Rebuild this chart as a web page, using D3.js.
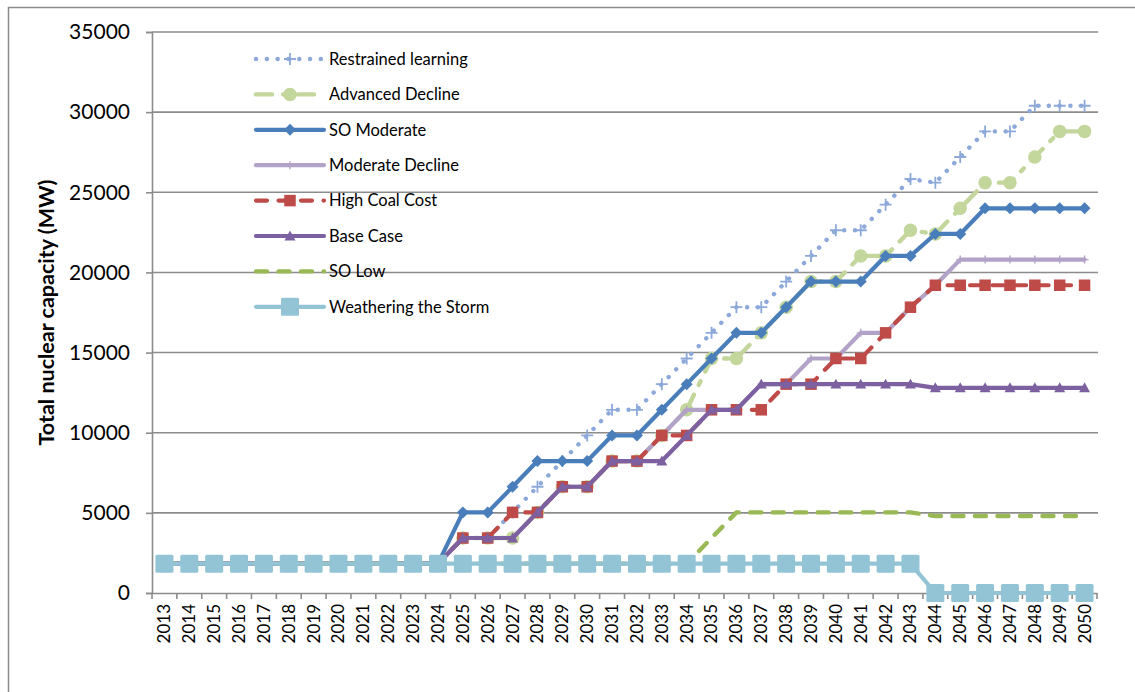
<!DOCTYPE html>
<html>
<head>
<meta charset="utf-8">
<script src="https://cdn.jsdelivr.net/npm/d3@7"></script>
<style>
  html, body { margin: 0; padding: 0; background: #fff; }
  svg { display: block; }
  text { font-family: Lato, "Open Sans", sans-serif; fill: #000; }
</style>
</head>
<body>
<svg id="chart" width="1135" height="692"></svg>
<script>
// ---------- data ----------
const years = ["2013","2014","2015","2016","2017","2018","2019","2020","2021","2022","2023","2024","2025","2026","2027","2028","2029","2030","2031","2032","2033","2034","2035","2036","2037","2038","2039","2040","2041","2042","2043","2044","2045","2046","2047","2048","2049","2050"];

const yTicks = [0, 5000, 10000, 15000, 20000, 25000, 30000, 35000];

const restrainedLearning = [1830,1830,1830,1830,1830,1830,1830,1830,1830,1830,1830,1830,
  3430,3430,5030,6630,8230,9830,11430,11430,13030,14630,
  16230,17830,17830,19430,21030,22630,22630,24230,25830,25600,
  27200,28800,28800,30400,30400,30400];

const advancedDecline = [1830,1830,1830,1830,1830,1830,1830,1830,1830,1830,1830,1830,
  3430,3430,3430,5030,6630,6630,8230,8230,9830,11430,
  14630,14630,16230,17830,19430,19430,21030,21030,22630,22400,
  24000,25600,25600,27200,28800,28800];

const soModerate = [1830,1830,1830,1830,1830,1830,1830,1830,1830,1830,1830,1830,
  5030,5030,6630,8230,8230,8230,9830,9830,11430,13030,
  14630,16230,16230,17830,19430,19430,19430,21030,21030,22400,
  22400,24000,24000,24000,24000,24000];

const moderateDecline = [1830,1830,1830,1830,1830,1830,1830,1830,1830,1830,1830,1830,
  3430,3430,3430,5030,6630,6630,8230,8230,9830,11430,
  11430,11430,13030,13030,14630,14630,16230,16230,17830,19200,
  20800,20800,20800,20800,20800,20800];

const highCoalCost = [1830,1830,1830,1830,1830,1830,1830,1830,1830,1830,1830,1830,
  3430,3430,5030,5030,6630,6630,8230,8230,9830,9830,
  11430,11430,11430,13030,13030,14630,14630,16230,17830,19200,
  19200,19200,19200,19200,19200,19200];

const baseCase = [1830,1830,1830,1830,1830,1830,1830,1830,1830,1830,1830,1830,
  3430,3430,3430,5030,6630,6630,8230,8230,8230,9830,
  11430,11430,13030,13030,13030,13030,13030,13030,13030,12800,
  12800,12800,12800,12800,12800,12800];

const soLow = [1830,1830,1830,1830,1830,1830,1830,1830,1830,1830,1830,1830,
  1830,1830,1830,1830,1830,1830,1830,1830,1830,1830,
  3430,5030,5030,5030,5030,5030,5030,5030,5030,4800,
  4800,4800,4800,4800,4800,4800];

const weatheringTheStorm = [1830,1830,1830,1830,1830,1830,1830,1830,1830,1830,1830,1830,
  1830,1830,1830,1830,1830,1830,1830,1830,1830,1830,
  1830,1830,1830,1830,1830,1830,1830,1830,1830,0,
  0,0,0,0,0,0];

const seriesNames = ["Restrained learning","Advanced Decline","SO Moderate","Moderate Decline","High Coal Cost","Base Case","SO Low","Weathering the Storm"];
const seriesValues = [restrainedLearning, advancedDecline, soModerate, moderateDecline, highCoalCost, baseCase, soLow, weatheringTheStorm];

// ---------- styles ----------
const styles = [
  {color:"#8DA9DA", width:4.4, dash:"0.1 10.7", cap:"round", marker:"plus", msize:12, mstroke:1.8},
  {color:"#C3D69B", width:4.4, dash:"16 11 4 11", cap:"round", marker:"circle", msize:13.5},
  {color:"#4A7EBB", width:4.2, dash:null, cap:"round", marker:"diamond", msize:12},
  {color:"#B3A2C7", width:4.2, dash:null, cap:"round", marker:"tick", msize:8, mstroke:1.4},
  {color:"#BE4B48", width:4.2, dash:"11 11.5", cap:"round", marker:"square", msize:11.5},
  {color:"#7D60A0", width:4.2, dash:null, cap:"round", marker:"triangle", msize:11},
  {color:"#98B954", width:4.4, dash:"11 11.5", cap:"round", marker:null},
  {color:"#93C4D6", width:4.2, dash:null, cap:"round", marker:"bigsquare", msize:18}
];

// ---------- layout ----------
const svg = d3.select("#chart");
const plotL = 152, plotR = 1097, plotT = 32, plotB = 593;

// outer frame
svg.append("path")
  .attr("d", "M8.5,692 L8.5,7.5 L1135,7.5")
  .attr("fill","none").attr("stroke","#8c8c8c").attr("stroke-width",1.5);

const x = d3.scaleBand().domain(years).range([plotL, plotR]).padding(0);
const y = d3.scaleLinear().domain([0, 35000]).range([plotB, plotT]);
const cx = d => x(d) + x.bandwidth()/2;

// gridlines
svg.append("g").selectAll("line").data(yTicks.filter(t => t > 0)).join("line")
  .attr("x1", plotL).attr("x2", plotR + 1)
  .attr("y1", d => y(d)).attr("y2", d => y(d))
  .attr("stroke", "#8c8c8c").attr("stroke-width", 1.6);

// y axis
const yAxis = d3.axisLeft(y).tickValues(yTicks).tickSize(6).tickPadding(16).tickFormat(d3.format("d"));
const gy = svg.append("g").attr("transform", `translate(${plotL},0)`).call(yAxis);
gy.select(".domain").attr("stroke","#8c8c8c").attr("stroke-width",1.6);
gy.selectAll(".tick line").attr("stroke","#8c8c8c").attr("stroke-width",1.6);
gy.selectAll(".tick text").style("font-family","Lato, sans-serif").style("font-size","21px").attr("fill","#000");

// x axis
const xAxis = d3.axisBottom(x).tickSize(0).tickPadding(0);
const gx = svg.append("g").attr("transform", `translate(0,${plotB})`).call(xAxis);
gx.select(".domain").attr("stroke","#8c8c8c").attr("stroke-width",1.6);
gx.selectAll(".tick text")
  .style("font-family","Lato, sans-serif").style("font-size","17px").attr("fill","#000")
  .attr("text-anchor","end")
  .attr("transform","rotate(-90)")
  .attr("x", -11).attr("y", 0).attr("dy","0.35em");
// tick marks at category boundaries
const bounds = years.map(d => x(d)).concat([plotR]);
gx.append("g").selectAll("line").data(bounds).join("line")
  .attr("x1", d => d).attr("x2", d => d).attr("y1", 0).attr("y2", 6)
  .attr("stroke","#8c8c8c").attr("stroke-width",1.6);

// y axis title
svg.append("text")
  .attr("transform", `translate(54,${(plotT+plotB)/2}) rotate(-90)`)
  .attr("text-anchor","middle")
  .style("font-size","21.5px").style("font-weight","bold")
  .text("Total nuclear capacity (MW)");

// ---------- markers ----------
function drawMarker(g, type, px, py, st) {
  const s = st.msize;
  if (type === "plus" || type === "tick") {
    const h = s/2;
    g.append("path")
      .attr("d", `M${px-h},${py} L${px+h},${py} M${px},${py-h} L${px},${py+h}`)
      .attr("stroke", st.color).attr("stroke-width", st.mstroke).attr("fill","none");
  } else if (type === "circle") {
    g.append("circle").attr("cx", px).attr("cy", py).attr("r", s/2).attr("fill", st.color);
  } else if (type === "diamond") {
    const h = s/2;
    g.append("path").attr("d", `M${px},${py-h} L${px+h},${py} L${px},${py+h} L${px-h},${py} Z`).attr("fill", st.color);
  } else if (type === "square") {
    g.append("rect").attr("x", px-s/2).attr("y", py-s/2).attr("width", s).attr("height", s).attr("fill", st.color);
  } else if (type === "triangle") {
    const h = s/2;
    g.append("path").attr("d", `M${px},${py-h} L${px+h},${py+h*0.8} L${px-h},${py+h*0.8} Z`).attr("fill", st.color);
  } else if (type === "bigsquare") {
    g.append("rect").attr("x", px-s/2).attr("y", py-s/2).attr("width", s).attr("height", s)
      .attr("rx", 1.5).attr("fill", st.color);
  }
}

// ---------- series ----------
const line = d3.line().x((d,i) => cx(years[i])).y(d => y(d));
seriesValues.forEach((vals, k) => {
  const st = styles[k];
  const g = svg.append("g");
  g.append("path").datum(vals).attr("d", line)
    .attr("fill","none").attr("stroke", st.color).attr("stroke-width", st.width)
    .attr("stroke-linejoin","round").attr("stroke-linecap", st.cap)
    .attr("stroke-dasharray", st.dash);
  if (st.marker) vals.forEach((v,i) => drawMarker(g, st.marker, cx(years[i]), y(v), st));
});

// ---------- legend ----------
const legY0 = 59, legDy = 35.4, legX1 = 256, legX2 = 324;
const leg = svg.append("g");
seriesNames.forEach((name, k) => {
  const st = styles[k];
  const ly = legY0 + k*legDy;
  leg.append("line").attr("x1", legX1).attr("x2", legX2).attr("y1", ly).attr("y2", ly)
    .attr("stroke", st.color).attr("stroke-width", st.width)
    .attr("stroke-linecap", st.cap).attr("stroke-dasharray", st.dash);
  if (st.marker) drawMarker(leg, st.marker, (legX1+legX2)/2, ly, st);
  leg.append("text").attr("x", 329).attr("y", ly).attr("dy","0.35em")
    .style("font-size","16.5px").text(name);
});
</script>
</body>
</html>
